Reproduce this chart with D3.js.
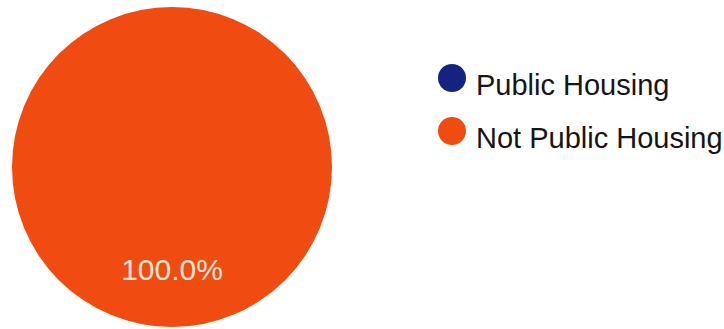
<!DOCTYPE html>
<html>
<head>
<meta charset="utf-8">
<script src="https://cdn.jsdelivr.net/npm/d3@7"></script>
<style>
  html, body { margin: 0; padding: 0; background: #ffffff; }
  svg { display: block; }
</style>
</head>
<body>
<svg id="chart" width="724" height="329"></svg>
<script>
// Housing type share
const categories = ["Public Housing", "Not Public Housing"];
const values = [0, 100];
const colors = ["#13237f", "#f04b10"];

const svg = d3.select("#chart");
const width = 724, height = 329;

const cx = 172, cy = 167, radius = 160;

const pie = d3.pie().sort(null).value(d => d.value);
const data = categories.map((c, i) => ({ name: c, value: values[i], color: colors[i] }));
const arcs = pie(data);

const arc = d3.arc().innerRadius(0).outerRadius(radius);
const labelArc = d3.arc().innerRadius(radius * 0.64).outerRadius(radius * 0.64);

const g = svg.append("g").attr("transform", `translate(${cx},${cy})`);

g.selectAll("path.slice")
  .data(arcs.filter(d => d.value > 0))
  .join("path")
  .attr("class", "slice")
  .attr("d", arc)
  .attr("fill", d => d.data.color);

const total = d3.sum(values);
const fmt = d3.format(".1%");

g.selectAll("text.pct")
  .data(arcs.filter(d => d.value > 0))
  .join("text")
  .attr("class", "pct")
  .attr("transform", d => `translate(${labelArc.centroid(d)})`)
  .attr("text-anchor", "middle")
  .attr("dy", "0.35em")
  .attr("font-family", "Liberation Sans, Arial, sans-serif")
  .attr("font-size", 30)
  .attr("fill", "#f4e6d4")
  .text(d => fmt(d.value / total));

// Legend
const legendY = d3.scalePoint().domain(categories).range([78, 131]);
const legend = svg.append("g");
const item = legend.selectAll("g.item")
  .data(data)
  .join("g")
  .attr("class", "item")
  .attr("transform", d => `translate(452,${legendY(d.name)})`);

item.append("circle")
  .attr("r", 14)
  .attr("fill", d => d.color);

item.append("text")
  .attr("x", 24)
  .attr("y", 17)
  .attr("font-family", "Liberation Sans, Arial, sans-serif")
  .attr("font-size", 29)
  .attr("fill", "#151515")
  .text(d => d.name);
</script>
</body>
</html>
